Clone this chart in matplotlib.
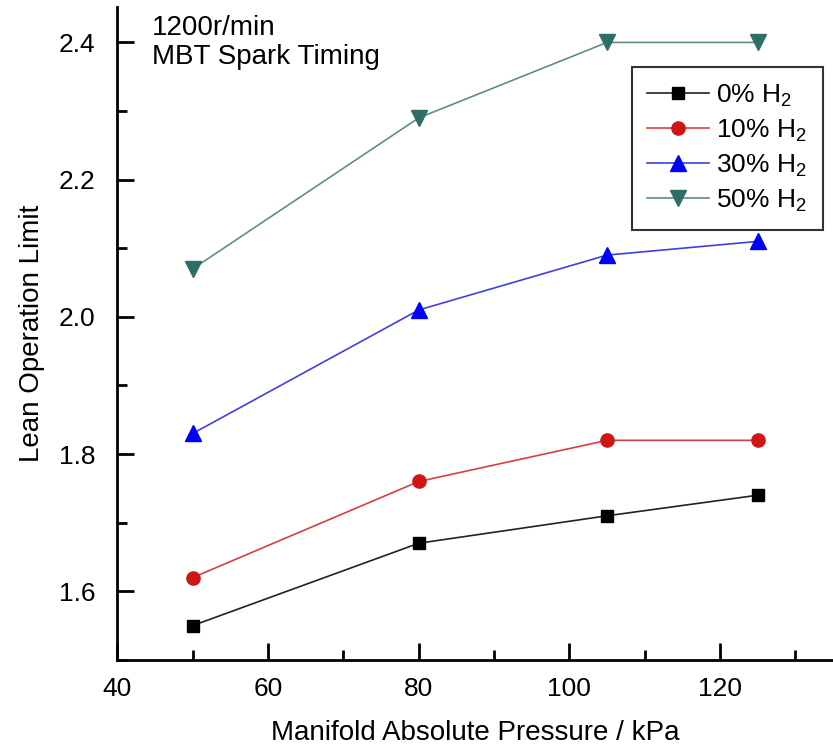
import matplotlib
matplotlib.use("Agg")
import matplotlib.pyplot as plt
from matplotlib.ticker import MultipleLocator

plt.rcParams['font.family'] = ['Liberation Sans', 'DejaVu Sans']
plt.rcParams['mathtext.fontset'] = 'custom'
plt.rcParams['mathtext.rm'] = 'Liberation Sans'

# Data
pressure = [50, 80, 105, 125]
h2_0 = [1.55, 1.67, 1.71, 1.74]
h2_10 = [1.62, 1.76, 1.82, 1.82]
h2_30 = [1.83, 2.01, 2.09, 2.11]
h2_50 = [2.07, 2.29, 2.40, 2.40]
labels = ['0% H$_\\mathrm{2}$', '10% H$_\\mathrm{2}$', '30% H$_\\mathrm{2}$', '50% H$_\\mathrm{2}$']

# series styles: (values, marker, line colour, marker colour, marker size)
series = [
    (h2_0, 's', '#222222', 'black', 9),
    (h2_10, 'o', '#d84040', '#d01515', 9.5),
    (h2_30, '^', '#4040e0', '#0000ff', 11),
    (h2_50, 'v', '#5e8e88', '#2f6e66', 11),
]

fig = plt.figure(figsize=(8.33, 7.49), dpi=100)
ax = fig.add_axes([0.141, 0.119, 0.859, 0.872])

for (vals, mk, lc, mc, ms), lab in zip(series, labels):
    ax.plot(pressure, vals, color=lc, linewidth=1.2, marker=mk,
            markersize=ms, markerfacecolor=mc, markeredgecolor=mc, label=lab)

ax.set_xlim(40, 135)
ax.set_ylim(1.5, 2.452)
ax.xaxis.set_major_locator(MultipleLocator(20))
ax.xaxis.set_minor_locator(MultipleLocator(10))
ax.yaxis.set_major_locator(MultipleLocator(0.2))
ax.yaxis.set_minor_locator(MultipleLocator(0.1))
ax.yaxis.set_major_formatter(plt.FormatStrFormatter('%.1f'))

for side in ['top', 'right']:
    ax.spines[side].set_visible(False)
for side in ['left', 'bottom']:
    ax.spines[side].set_linewidth(2)

ax.tick_params(which='major', direction='in', length=12, width=2,
               labelsize=19)
ax.tick_params(axis='x', which='major', pad=12)
ax.tick_params(axis='y', which='major', pad=16)
ax.tick_params(which='minor', direction='in', length=7, width=2)

ax.set_xlabel('Manifold Absolute Pressure / kPa', fontsize=20, labelpad=14)
ax.set_ylabel('Lean Operation Limit', fontsize=20, labelpad=10)

ax.text(0.048, 0.987, '1200r/min\nMBT Spark Timing', transform=ax.transAxes,
        fontsize=20, va='top', ha='left', linespacing=1.15)

leg = ax.legend(loc='upper right', bbox_to_anchor=(0.986, 0.908), fontsize=19,
                frameon=True, fancybox=False, edgecolor='black',
                handlelength=2.35, handletextpad=0.27, borderpad=0.6,
                labelspacing=0.32, borderaxespad=0)
leg.get_frame().set_linewidth(1.5)

fig.savefig('out.png', dpi=100)
